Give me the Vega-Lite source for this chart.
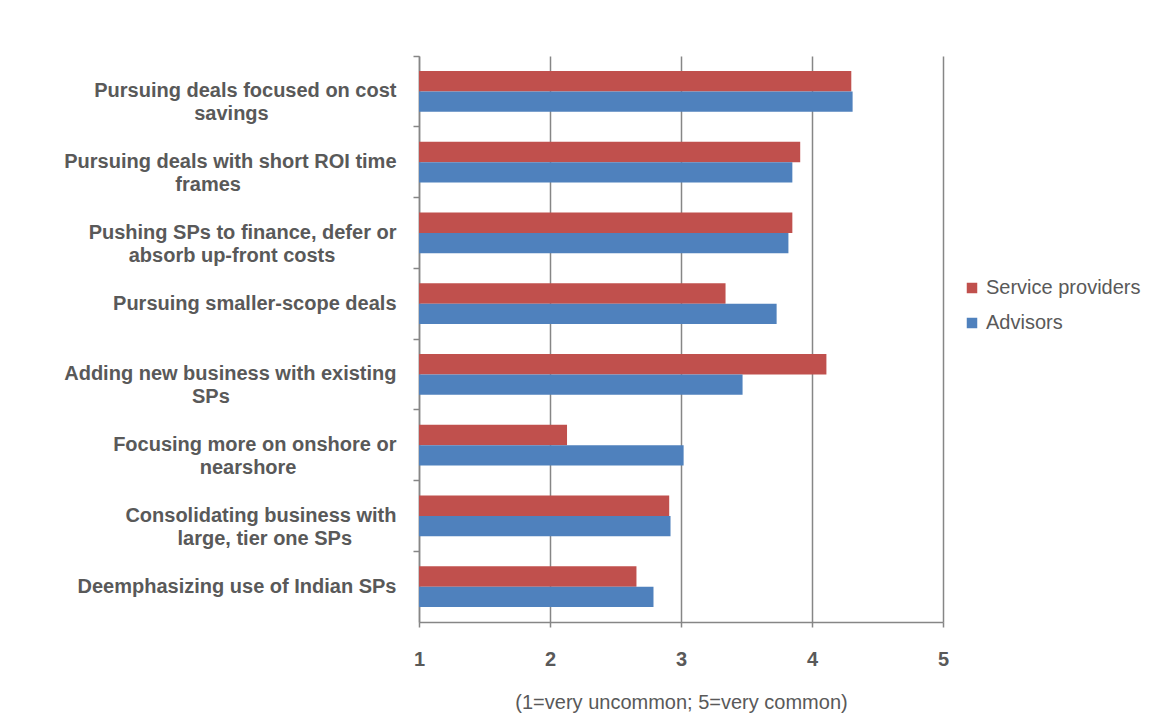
{
  "$schema": "https://vega.github.io/schema/vega-lite/v6.json",
  "width": 524,
  "height": 566,
  "autosize": {"type": "none"},
  "padding": {"left": 419, "top": 56, "right": 218, "bottom": 106},
  "background": "white",
  "data": {
    "values": [
      {"item": "Pursuing deals focused on cost\nsavings", "group": "Service providers", "score": 4.30},
      {"item": "Pursuing deals focused on cost\nsavings", "group": "Advisors", "score": 4.31},
      {"item": "Pursuing deals with short ROI time\nframes", "group": "Service providers", "score": 3.91},
      {"item": "Pursuing deals with short ROI time\nframes", "group": "Advisors", "score": 3.85},
      {"item": "Pushing SPs to finance, defer or\nabsorb up-front costs", "group": "Service providers", "score": 3.85},
      {"item": "Pushing SPs to finance, defer or\nabsorb up-front costs", "group": "Advisors", "score": 3.82},
      {"item": "Pursuing smaller-scope deals", "group": "Service providers", "score": 3.34},
      {"item": "Pursuing smaller-scope deals", "group": "Advisors", "score": 3.73},
      {"item": "Adding new business with existing\nSPs", "group": "Service providers", "score": 4.11},
      {"item": "Adding new business with existing\nSPs", "group": "Advisors", "score": 3.47},
      {"item": "Focusing more on onshore or\nnearshore", "group": "Service providers", "score": 2.13},
      {"item": "Focusing more on onshore or\nnearshore", "group": "Advisors", "score": 3.02},
      {"item": "Consolidating business with\nlarge, tier one SPs", "group": "Service providers", "score": 2.91},
      {"item": "Consolidating business with\nlarge, tier one SPs", "group": "Advisors", "score": 2.92},
      {"item": "Deemphasizing use of Indian SPs", "group": "Service providers", "score": 2.66},
      {"item": "Deemphasizing use of Indian SPs", "group": "Advisors", "score": 2.79}
    ]
  },
  "mark": {"type": "bar"},
  "encoding": {
    "y": {
      "field": "item",
      "type": "nominal",
      "sort": null,
      "scale": {"paddingInner": 0, "paddingOuter": 0},
      "axis": {
        "title": null,
        "bandPosition": 0,
        "ticks": true,
        "tickSize": 6,
        "tickColor": "#868686",
        "tickWidth": 1.5,
        "domainColor": "#868686",
        "domainWidth": 1.5,
        "grid": false,
        "labelFont": "Liberation Sans",
        "labelFontSize": 20,
        "labelFontWeight": "bold",
        "labelColor": "#595959",
        "labelPadding": 17,
        "labelLineHeight": 23,
        "labelLimit": 600,
        "labelExpr": "length(split(datum.label, '\\n')) > 1 ? [split(datum.label, '\\n')[0], pad(split(datum.label, '\\n')[1], length(split(datum.label, '\\n')[0]), '\u00a0', 'right') + '\u200b'] : datum.label"
      }
    },
    "yOffset": {
      "field": "group",
      "type": "nominal",
      "sort": ["Service providers", "Advisors"],
      "scale": {"paddingInner": 0, "paddingOuter": 0.73}
    },
    "x": {
      "field": "score",
      "type": "quantitative",
      "scale": {"domain": [1, 5], "nice": false, "zero": false},
      "axis": {
        "title": "(1=very uncommon; 5=very common)",
        "values": [1, 2, 3, 4, 5],
        "format": "d",
        "grid": true,
        "gridColor": "#868686",
        "gridWidth": 1.5,
        "domainColor": "#868686",
        "domainWidth": 1.5,
        "tickColor": "#868686",
        "tickWidth": 1.5,
        "tickSize": 5,
        "labelFont": "Liberation Sans",
        "labelFontSize": 20,
        "labelFontWeight": "bold",
        "labelColor": "#595959",
        "labelPadding": 22,
        "labelFlush": false,
        "titleFont": "Liberation Sans",
        "titleFontSize": 20,
        "titleFontWeight": "normal",
        "titleColor": "#595959",
        "titlePadding": 23
      }
    },
    "x2": {"datum": 1},
    "color": {
      "field": "group",
      "type": "nominal",
      "scale": {"domain": ["Service providers", "Advisors"], "range": ["#C0504D", "#4F81BD"]},
      "legend": {
        "title": null,
        "orient": "none",
        "legendX": 543,
        "legendY": 222,
        "symbolType": "square",
        "symbolSize": 110,
        "symbolStrokeWidth": 0,
        "symbolOpacity": 1,
        "labelFont": "Liberation Sans",
        "labelFontSize": 20,
        "labelColor": "#595959",
        "labelOffset": 4,
        "rowPadding": 15,
        "padding": 0
      }
    }
  },
  "config": {"view": {"stroke": null}}
}
